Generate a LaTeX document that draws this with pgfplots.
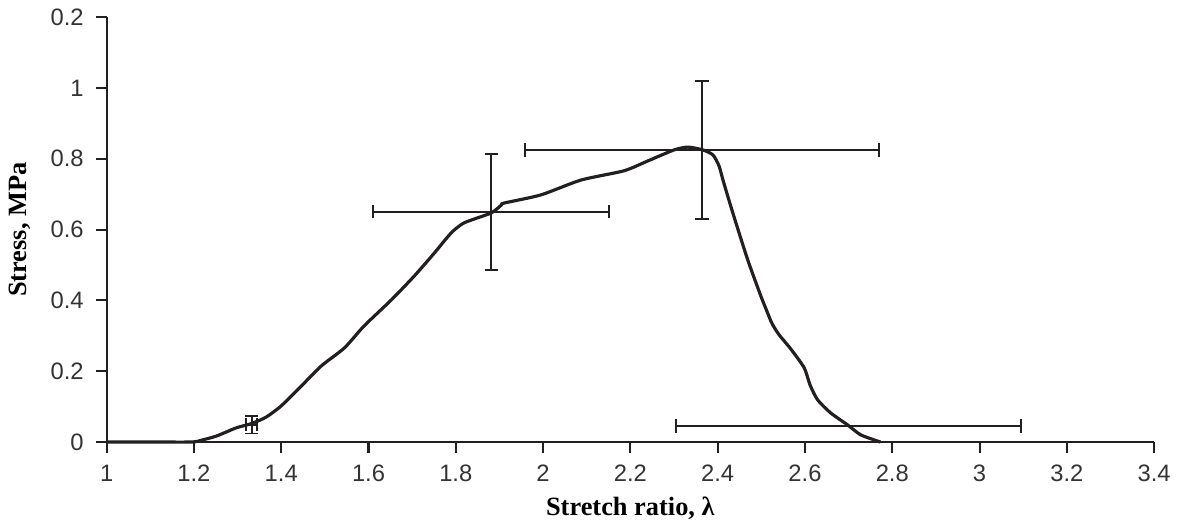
\documentclass[border=0pt]{standalone}
\usepackage{pgfplots}
\pgfplotsset{compat=1.18}
\usepackage{fontspec}
\setmainfont{Liberation Serif}
\newfontfamily\arial{Liberation Sans}
\definecolor{ink}{RGB}{35,31,32}

\pgfplotstableread{
x y
1.000 0.000
1.100 0.000
1.195 0.000
1.217 0.005
1.252 0.017
1.297 0.040
1.332 0.052
1.365 0.070
1.400 0.102
1.446 0.158
1.492 0.215
1.545 0.266
1.590 0.328
1.652 0.401
1.705 0.469
1.751 0.534
1.789 0.590
1.819 0.619
1.881 0.647
1.904 0.669
1.911 0.675
1.995 0.698
2.087 0.740
2.185 0.766
2.240 0.794
2.300 0.825
2.332 0.833
2.366 0.825
2.389 0.811
2.403 0.780
2.414 0.732
2.437 0.638
2.469 0.514
2.499 0.412
2.512 0.372
2.524 0.336
2.540 0.304
2.568 0.262
2.598 0.210
2.612 0.160
2.629 0.119
2.659 0.082
2.698 0.048
2.728 0.020
2.773 0.000
}\curve

\pgfplotstableread{
x y ex ey
1.332 0.049 0.012 0.025
1.881 0.650 0.270 0.163
2.364 0.825 0.405 0.195
2.700 0.045 0.395 0.000
}\errs

\begin{document}
\begin{tikzpicture}
\begin{axis}[
  scale only axis,
  width=397pt, height=161pt,
  xmin=1, xmax=3.4, ymin=0, ymax=1.2,
  axis x line=bottom, axis y line=left,
  axis line style={-, draw=ink, line width=0.8pt},
  xtick={1,1.2,...,3.4},
  ytick={0,0.2,0.4,0.6,0.8,1,1.2},
  yticklabels={0,0.2,0.4,0.6,0.8,1,\raisebox{-1.5pt}{0.2}},
  tick align=outside,
  major tick length=4pt,
  tick style={draw=ink, line width=0.8pt},
  /pgf/number format/assume math mode=true,
  ticklabel style={font=\arial\fontsize{9}{11}\selectfont, text=black!80},
  yticklabel style={xshift=-1.2pt},
  xticklabel style={yshift=-1.2pt},
  xlabel={\textbf{Stretch ratio, λ}},
  ylabel={\textbf{Stress, MPa}},
  label style={font=\fontsize{10}{12}\selectfont},
  xlabel style={yshift=1.2pt},
  ylabel style={yshift=0.8pt},
  clip=false,
]
\addplot[ink, line width=1.2pt, smooth, tension=0.4] table[x=x, y=y] {\curve};
\addplot[draw=none, mark=none,
  error bars/.cd, x dir=both, y dir=both, x explicit, y explicit,
  error bar style={draw=ink, line width=0.75pt},
  error mark=|,
  error mark options={draw=ink, line width=0.75pt, mark size=2.5pt}]
  table[x=x, y=y, x error=ex, y error=ey] {\errs};
\end{axis}
\path ([xshift=11.7pt]current axis.south east);
\end{tikzpicture}
\end{document}
